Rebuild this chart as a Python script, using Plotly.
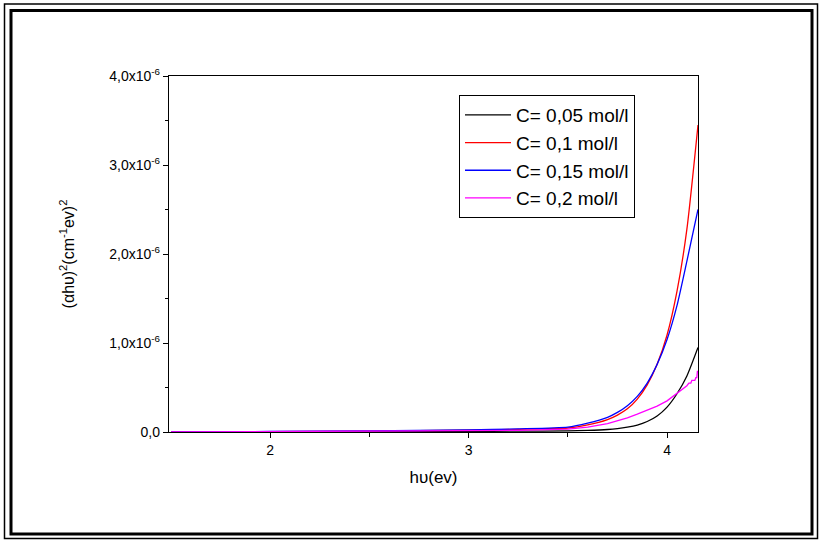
import plotly.graph_objects as go

# Photon energy grid (eV) shared by the smooth curves
hv = [1.5, 2.0, 2.5, 3.0, 3.25, 3.5, 3.6, 3.7, 3.75, 3.8, 3.85, 3.9, 3.95, 4.0, 4.05, 4.1, 4.156]

# (alpha*h*nu)^2 in units of 1e-6
c005 = [0.0, 0.002, 0.004, 0.007, 0.010, 0.012, 0.018, 0.028, 0.038, 0.054, 0.078, 0.118, 0.180, 0.280, 0.430, 0.630, 0.95]
c01 = [0.0, 0.005, 0.010, 0.020, 0.030, 0.045, 0.080, 0.140, 0.190, 0.260, 0.370, 0.530, 0.760, 1.090, 1.580, 2.280, 3.45]
c015 = [0.0, 0.006, 0.012, 0.023, 0.035, 0.055, 0.100, 0.165, 0.220, 0.295, 0.400, 0.550, 0.760, 1.040, 1.420, 1.920, 2.50]

# The 0,2 mol/l curve has its own grid with the stepped tail
hv_02 = [1.5, 2.0, 2.5, 3.0, 3.25, 3.5, 3.6, 3.7, 3.75, 3.8, 3.85, 3.9, 3.95, 4.0, 4.05,
         4.08, 4.1, 4.11, 4.12, 4.125, 4.14, 4.145, 4.15, 4.153, 4.156]
c02 = [0.0, 0.003, 0.006, 0.012, 0.018, 0.032, 0.055, 0.095, 0.125, 0.160, 0.200, 0.245, 0.290, 0.350, 0.430,
       0.480, 0.520, 0.550, 0.550, 0.580, 0.580, 0.610, 0.610, 0.680, 0.680]

labels = ["C= 0,05 mol/l", "C= 0,1 mol/l", "C= 0,15 mol/l", "C= 0,2 mol/l"]
colors = ["#000000", "#ff0000", "#0000ff", "#ff00ff"]

y_ticks = [0, 1, 2, 3, 4]
y_ticktext = ["0,0", "1,0x10<sup>-6</sup>", "2,0x10<sup>-6</sup>", "3,0x10<sup>-6</sup>", "4,0x10<sup>-6</sup>"]
x_ticks = [2, 3, 4]

SCALE = 1e-6

fig = go.Figure()
series = [(hv, c005), (hv, c01), (hv, c015), (hv_02, c02)]
for (xs, ys), name, col in zip(series, labels, colors):
    fig.add_trace(go.Scatter(
        x=xs, y=[v * SCALE for v in ys], mode="lines", name=name,
        line=dict(color=col, width=1.3, shape="spline" if xs is hv else "linear", smoothing=0.6),
    ))

W, H = 822, 540
L, R, T, B = 169, 124, 76, 108
PW, PH = W - L - R, H - T - B

def px_x(px):
    return (px - L) / PW

def px_y(py):
    return (H - B - py) / PH

font = "Liberation Sans, Arial, sans-serif"

fig.update_layout(
    width=W, height=H,
    margin=dict(l=L, r=R, t=T, b=B),
    paper_bgcolor="white", plot_bgcolor="white",
    font=dict(family=font, color="black"),
    showlegend=True,
    legend=dict(
        x=px_x(459), y=px_y(95), xanchor="left", yanchor="top",
        bordercolor="black", borderwidth=1, bgcolor="white",
        font=dict(size=19, family=font),
        tracegroupgap=0, itemwidth=46,
    ),
    xaxis=dict(
        range=[1.49, 4.156], showgrid=False, zeroline=False,
        showline=True, linecolor="black", linewidth=1.3, mirror=True,
        ticks="outside", ticklen=5, tickwidth=1.2, tickcolor="black",
        tickvals=x_ticks, ticktext=[str(v) for v in x_ticks],
        tickfont=dict(size=14),
        minor=dict(tickvals=[2.5, 3.5], ticks="outside", ticklen=4, tickwidth=1.2, tickcolor="black"),
        title=dict(text="h\u03c5(ev)", font=dict(size=17), standoff=14),
    ),
    yaxis=dict(
        range=[0, 4e-6], showgrid=False, zeroline=False,
        showline=True, linecolor="black", linewidth=1.3, mirror=True,
        ticks="outside", ticklen=5, tickwidth=1.2, tickcolor="black",
        tickvals=[v * SCALE for v in y_ticks], ticktext=y_ticktext,
        tickfont=dict(size=14),
        minor=dict(tickvals=[0.5e-6, 1.5e-6, 2.5e-6, 3.5e-6], ticks="outside", ticklen=3,
                   tickwidth=1.2, tickcolor="black"),
        title=dict(text="(\u03b1h\u03c5)<sup>2</sup>(cm<sup>-1</sup>ev)<sup>2</sup>", font=dict(size=16), standoff=30),
    ),
)

# Double page frame: thin outer line and thick inner line
fig.add_shape(type="rect", xref="paper", yref="paper",
              x0=px_x(4.5), x1=px_x(817.5), y0=px_y(538.5), y1=px_y(4),
              line=dict(color="black", width=1.5), fillcolor="rgba(0,0,0,0)", layer="above")
fig.add_shape(type="rect", xref="paper", yref="paper",
              x0=px_x(11), x1=px_x(812), y0=px_y(534), y1=px_y(10.5),
              line=dict(color="black", width=3), fillcolor="rgba(0,0,0,0)", layer="above")

fig.write_html("out.html")
